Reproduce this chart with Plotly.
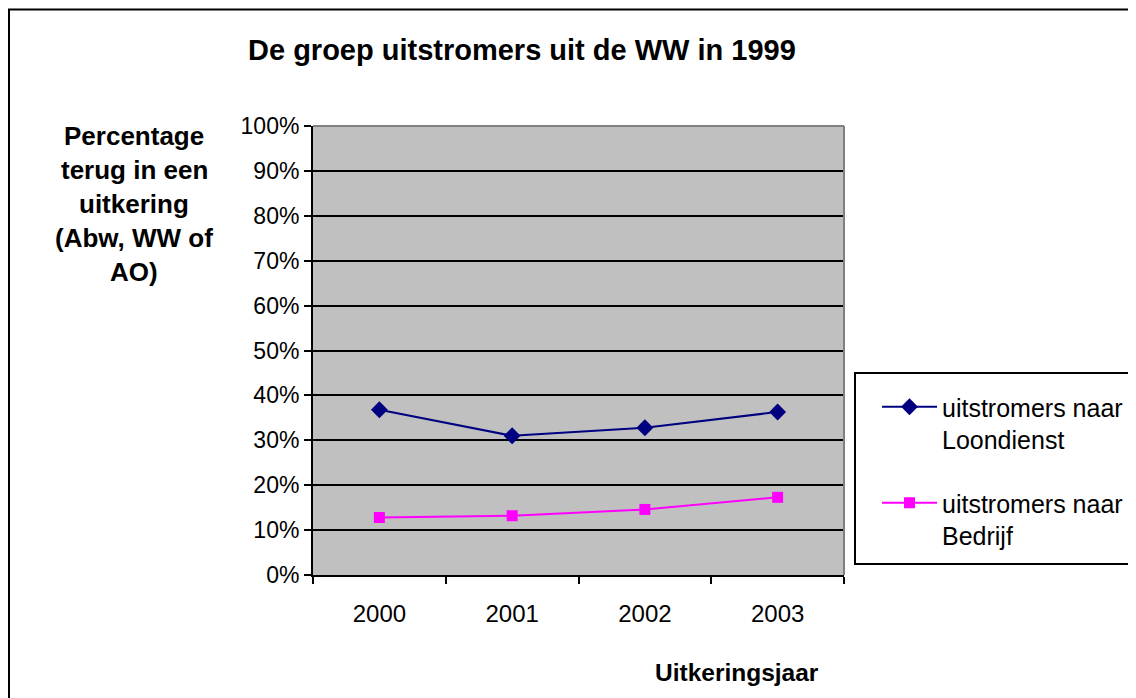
import plotly.graph_objects as go

years = ["2000", "2001", "2002", "2003"]
loondienst = [0.368, 0.310, 0.328, 0.363]
bedrijf = [0.128, 0.132, 0.146, 0.173]
series_names = ["uitstromers naar<br>Loondienst", "uitstromers naar<br>Bedrijf"]
y_ticks = [i / 10 for i in range(11)]

FONT = "Liberation Sans, Arial, sans-serif"

# page body margin offset of the html page
OFF = 8
# plot area in screen pixels
L, R, T, B = 313, 844, 126, 575
W, H = 1136, 698
pw, ph = R - L, B - T


def px(x):
    return (x - L) / pw


def py(y):
    return (B - y) / ph


fig = go.Figure()
fig.add_trace(go.Scatter(
    x=years, y=loondienst, name=series_names[0], mode="lines+markers",
    legendgroup="g1",
    line=dict(color="#000080", width=2),
    marker=dict(symbol="diamond", size=13, color="#000080"),
))
fig.add_trace(go.Scatter(
    x=years, y=bedrijf, name=series_names[1], mode="lines+markers",
    legendgroup="g2",
    line=dict(color="#FF00FF", width=2),
    marker=dict(symbol="square", size=11, color="#FF00FF"),
))

fig.update_layout(
    width=W, height=H,
    margin=dict(l=L - OFF, r=W - (R - OFF), t=T - OFF, b=H - (B - OFF)),
    paper_bgcolor="white",
    plot_bgcolor="#C0C0C0",
    font=dict(family=FONT, color="black", size=23),
    showlegend=True,
    legend=dict(
        x=px(877), y=py(384), xanchor="left", yanchor="top",
        valign="top", tracegroupgap=28, itemwidth=55,
        font=dict(size=25, family=FONT),
        bgcolor="rgba(0,0,0,0)",
    ),
    xaxis=dict(
        type="category", range=[-0.5, 3.5], tickson="boundaries",
        ticks="outside", ticklen=7, tickwidth=2, tickcolor="black",
        showline=True, linecolor="black", linewidth=2,
        showgrid=False, ticklabelstandoff=16,
        tickfont=dict(size=24),
    ),
    yaxis=dict(
        range=[0, 1], tickvals=y_ticks, tickformat=".0%",
        ticks="outside", ticklen=7, tickwidth=2, tickcolor="black",
        showline=True, linecolor="black", linewidth=2,
        showgrid=True, gridcolor="black", gridwidth=1.5,
        zeroline=False, tickfont=dict(size=23),
    ),
)

shapes = [
    # plot area top/right border
    dict(type="line", xref="paper", yref="paper", x0=0, x1=1, y0=1, y1=1,
         line=dict(color="#808080", width=2)),
    dict(type="line", xref="paper", yref="paper", x0=1, x1=1, y0=0, y1=1,
         line=dict(color="#808080", width=2)),
    # outer chart border
    dict(type="rect", xref="paper", yref="paper", x0=px(9), x1=px(1200),
         y0=py(760), y1=py(9.5), line=dict(color="black", width=2)),
    # legend border
    dict(type="rect", xref="paper", yref="paper", x0=px(855), x1=px(1200),
         y0=py(564), y1=py(373), line=dict(color="black", width=2)),
]
fig.update_layout(shapes=shapes)

annotations = [
    dict(text="<b>De groep uitstromers uit de WW in 1999</b>", x=px(522), y=py(50),
         xref="paper", yref="paper", showarrow=False, xanchor="center",
         yanchor="middle", font=dict(size=29, family=FONT)),
    dict(text="<b>Uitkeringsjaar</b>", x=px(737), y=py(672),
         xref="paper", yref="paper", showarrow=False, xanchor="center",
         yanchor="middle", font=dict(size=24.5, family=FONT)),
]
ytitle_lines = ["Percentage", "terug in een", "uitkering", "(Abw, WW of", "AO)"]
ytitle_y = [136, 170, 204, 238, 272]
for t, yy in zip(ytitle_lines, ytitle_y):
    annotations.append(dict(text=f"<b>{t}</b>", x=px(134), y=py(yy),
                            xref="paper", yref="paper", showarrow=False,
                            xanchor="center", yanchor="middle",
                            font=dict(size=26, family=FONT)))
fig.update_layout(annotations=annotations)

fig.write_html("out.html")
